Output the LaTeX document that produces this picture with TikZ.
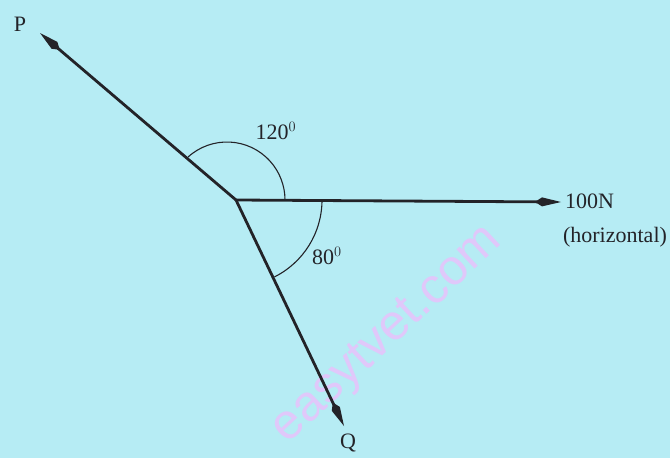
\documentclass[tikz,border=0pt]{standalone}
\usepackage{fontspec}
\setmainfont{Liberation Serif}
\newfontfamily\wmfont{Liberation Sans}
\usetikzlibrary{arrows.meta,calc}
\definecolor{bgblue}{RGB}{182,236,244}
\definecolor{wmpink}{RGB}{224,200,250}
\definecolor{ink}{RGB}{35,35,40}
\tikzset{
  force/.style={ink, line width=2.8pt, -{Kite[length=26pt,width=9pt,inset=7pt]}},
  anglearc/.style={ink, line width=1.1pt},
  lbl/.style={ink, font=\fontsize{22}{25}\selectfont, inner sep=0pt},
}
\begin{document}
\begin{tikzpicture}[x=1pt,y=-1pt]
\fill[bgblue] (0,0) rectangle (670,458);
\useasboundingbox (0,0) rectangle (670,458);
% watermark
\node[wmpink, font=\wmfont\fontsize{50}{50}\selectfont, rotate=43, inner sep=0pt] (wm) at (388,336) {easytvet.com};
% points
\coordinate (O) at (236,200);
\coordinate (C1) at (227,200);
\coordinate (Pt) at (40,33);
\coordinate (Ht) at (561,202);
\coordinate (Qt) at (344,426);
% angle arcs (y axis points down, so angles are mirrored)
\draw[anglearc] ($(C1)+(-132.2:58)$) arc[start angle=-132.2, end angle=0, radius=58];
\draw[anglearc] ($(O)+(0:86)$) arc[start angle=0, end angle=63.5, radius=86];
% forces
\draw[force] (O) -- (Pt);
\draw[force] (O) -- (Ht);
\draw[force] (O) -- (Qt);
% labels
\node[lbl] (P) at (20,24) {P};
\node[lbl, anchor=west] (N) at (565,201) {100N};
\node[lbl] (hz) at (615,237) {(horizontal)};
\node[lbl] (Q) at (348,443) {Q};
\node[lbl] (a120) at (276,131) {120$^{0}$};
\node[lbl] (a80) at (327,256) {80$^{0}$};
\end{tikzpicture}
\end{document}
